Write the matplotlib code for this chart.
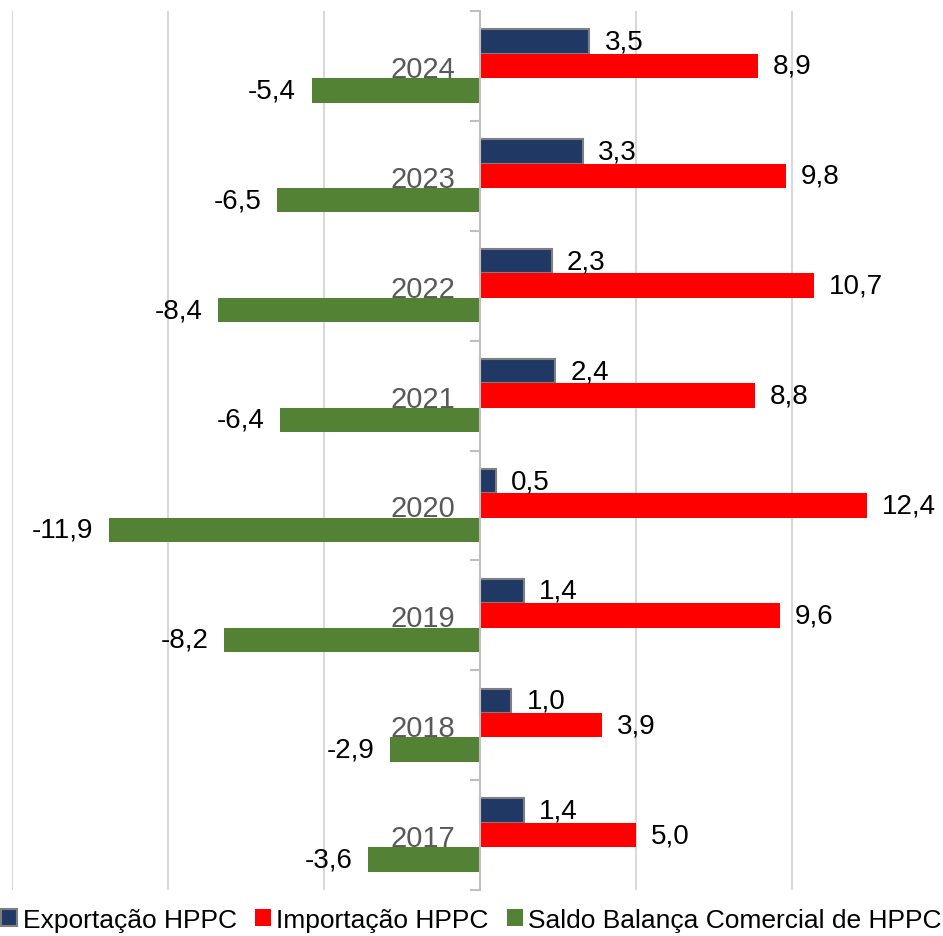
import matplotlib
matplotlib.use("Agg")
import matplotlib.pyplot as plt
import numpy as np

plt.rcParams['font.family'] = ['Liberation Sans', 'DejaVu Sans']

anos = ['2017', '2018', '2019', '2020', '2021', '2022', '2023', '2024']
exportacao = [1.4, 1.0, 1.4, 0.5, 2.4, 2.3, 3.3, 3.5]
importacao = [5.0, 3.9, 9.6, 12.4, 8.8, 10.7, 9.8, 8.9]
saldo = [-3.6, -2.9, -8.2, -11.9, -6.4, -8.4, -6.5, -5.4]

series = ['Exportação HPPC', 'Importação HPPC', 'Saldo Balança Comercial de HPPC']
cores = ['#1F3864', '#FF0000', '#548235']

fig = plt.figure(figsize=(9.43, 9.37), dpi=100)
ax = fig.add_axes([12/943, 1 - 891/937, 1 - 12/943, 879/937])

y = np.arange(len(anos))
h = 0.222
ax.barh(y + h, exportacao, height=h, color=cores[0], edgecolor='#7F7F7F', linewidth=1.5, label=series[0], zorder=3)
ax.barh(y, importacao, height=h, color=cores[1], label=series[1], zorder=3)
ax.barh(y - h, saldo, height=h, color=cores[2], label=series[2], zorder=3)

def fmt(v):
    return f'{v:.1f}'.replace('.', ',')

for vals, off in [(exportacao, h), (importacao, 0), (saldo, -h)]:
    for yi, v in zip(y, vals):
        if v >= 0:
            ax.annotate(fmt(v), (v, yi + off), xytext=(11, 0), textcoords='offset points',
                        ha='left', va='center', fontsize=20, color='black')
        else:
            ax.annotate(fmt(v), (v, yi + off), xytext=(-11, 0), textcoords='offset points',
                        ha='right', va='center', fontsize=20, color='black')

ax.set_xlim(-15, 14.84)
ax.set_ylim(-0.5, len(anos) - 0.5)

# grelha vertical
ax.set_xticks([-15, -10, -5, 5, 10])
ax.tick_params(axis='x', length=0, labelbottom=False)
ax.grid(axis='x', color='#D9D9D9', linewidth=1.5, zorder=0)

ax.spines['left'].set_position(('data', 0))
ax.spines['left'].set_color('#BFBFBF')
ax.spines['left'].set_linewidth(1.5)
ax.spines['left'].set_zorder(4)
for s in ['top', 'right', 'bottom']:
    ax.spines[s].set_visible(False)

ax.set_yticks(y)
ax.set_yticklabels(anos, fontsize=21, color='#595959')
ax.tick_params(axis='y', which='major', length=0, pad=18)
ax.set_yticks(np.arange(-0.5, len(anos), 1.0), minor=True)
ax.tick_params(axis='y', which='minor', length=7, width=1.5, color='#BFBFBF')
for lbl in ax.get_yticklabels():
    lbl.set_zorder(5)

fig.legend(loc='center', bbox_to_anchor=(0.5, 1 - 921/937), ncol=3,
           frameon=False, fontsize=19, handlelength=0.6, handleheight=0.6,
           handletextpad=0.2, columnspacing=0.7, borderaxespad=0)

fig.savefig('out.png', dpi=100)
